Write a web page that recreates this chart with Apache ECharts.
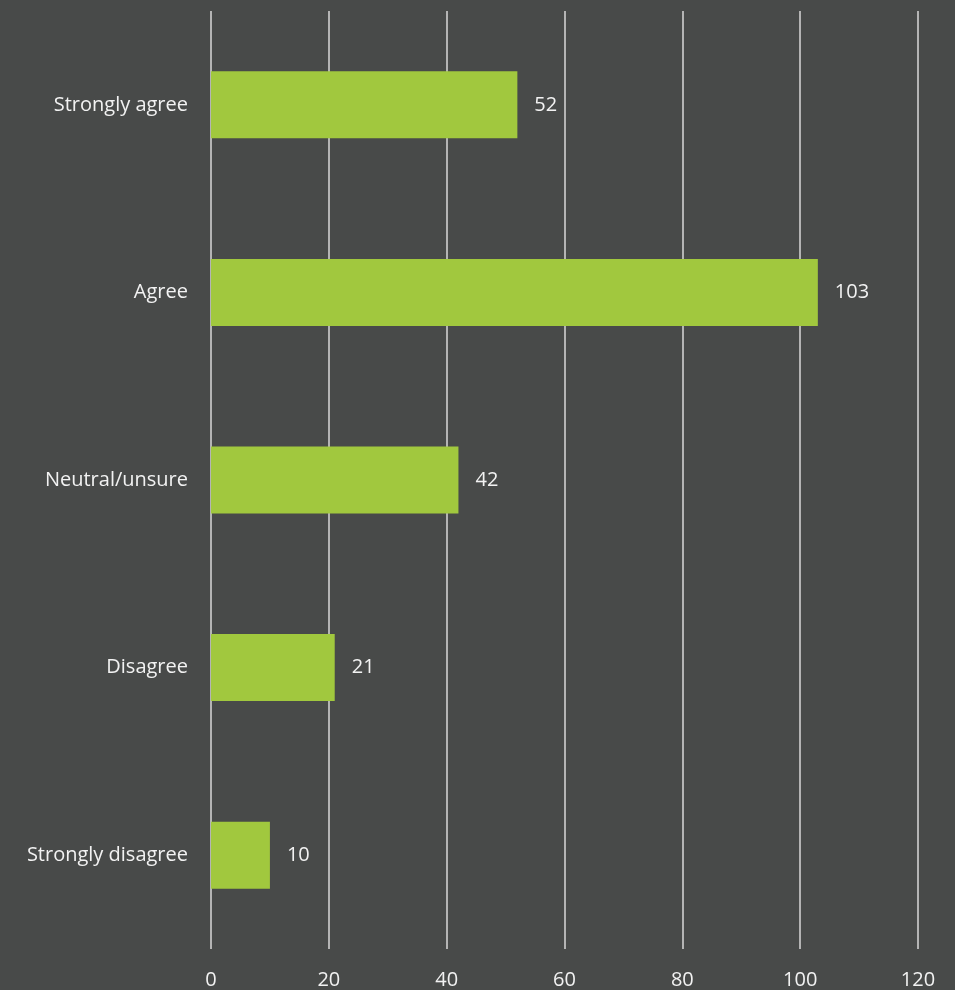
<!DOCTYPE html>
<html>
<head>
<meta charset="utf-8">
<script src="https://cdn.jsdelivr.net/npm/echarts@6/dist/echarts.min.js"></script>
<style>
  html, body { margin: 0; padding: 0; background: #484a49; }
  #chart { width: 955px; height: 990px; }
</style>
</head>
<body>
<div id="chart"></div>
<script>
const categories = ['Strongly agree', 'Agree', 'Neutral/unsure', 'Disagree', 'Strongly disagree']
const responses = [52, 103, 42, 21, 10]

const chart = echarts.init(document.getElementById('chart'))
chart.setOption({
  backgroundColor: '#484a49',
  animation: false,
  textStyle: { fontFamily: 'Open Sans' },
  grid: {
    left: 211,
    right: 37,
    top: 11,
    bottom: 40
  },
  xAxis: {
    type: 'value',
    min: 0,
    max: 120,
    interval: 20,
    axisLine: { show: false },
    axisTick: { show: false },
    splitLine: { lineStyle: { color: '#d9d9d9', width: 1.5 } },
    axisLabel: { color: '#f2f2f2', fontSize: 20, margin: 21 }
  },
  yAxis: {
    type: 'category',
    inverse: true,
    data: categories,
    axisLine: { show: false },
    axisTick: { show: false },
    axisLabel: { color: '#f2f2f2', fontSize: 20, margin: 23 }
  },
  series: [
    {
      type: 'bar',
      data: responses,
      barWidth: 67,
      itemStyle: { color: '#a1c83e' },
      label: {
        show: true,
        position: 'right',
        distance: 17,
        color: '#f2f2f2',
        fontSize: 20
      }
    }
  ]
})
</script>
</body>
</html>
